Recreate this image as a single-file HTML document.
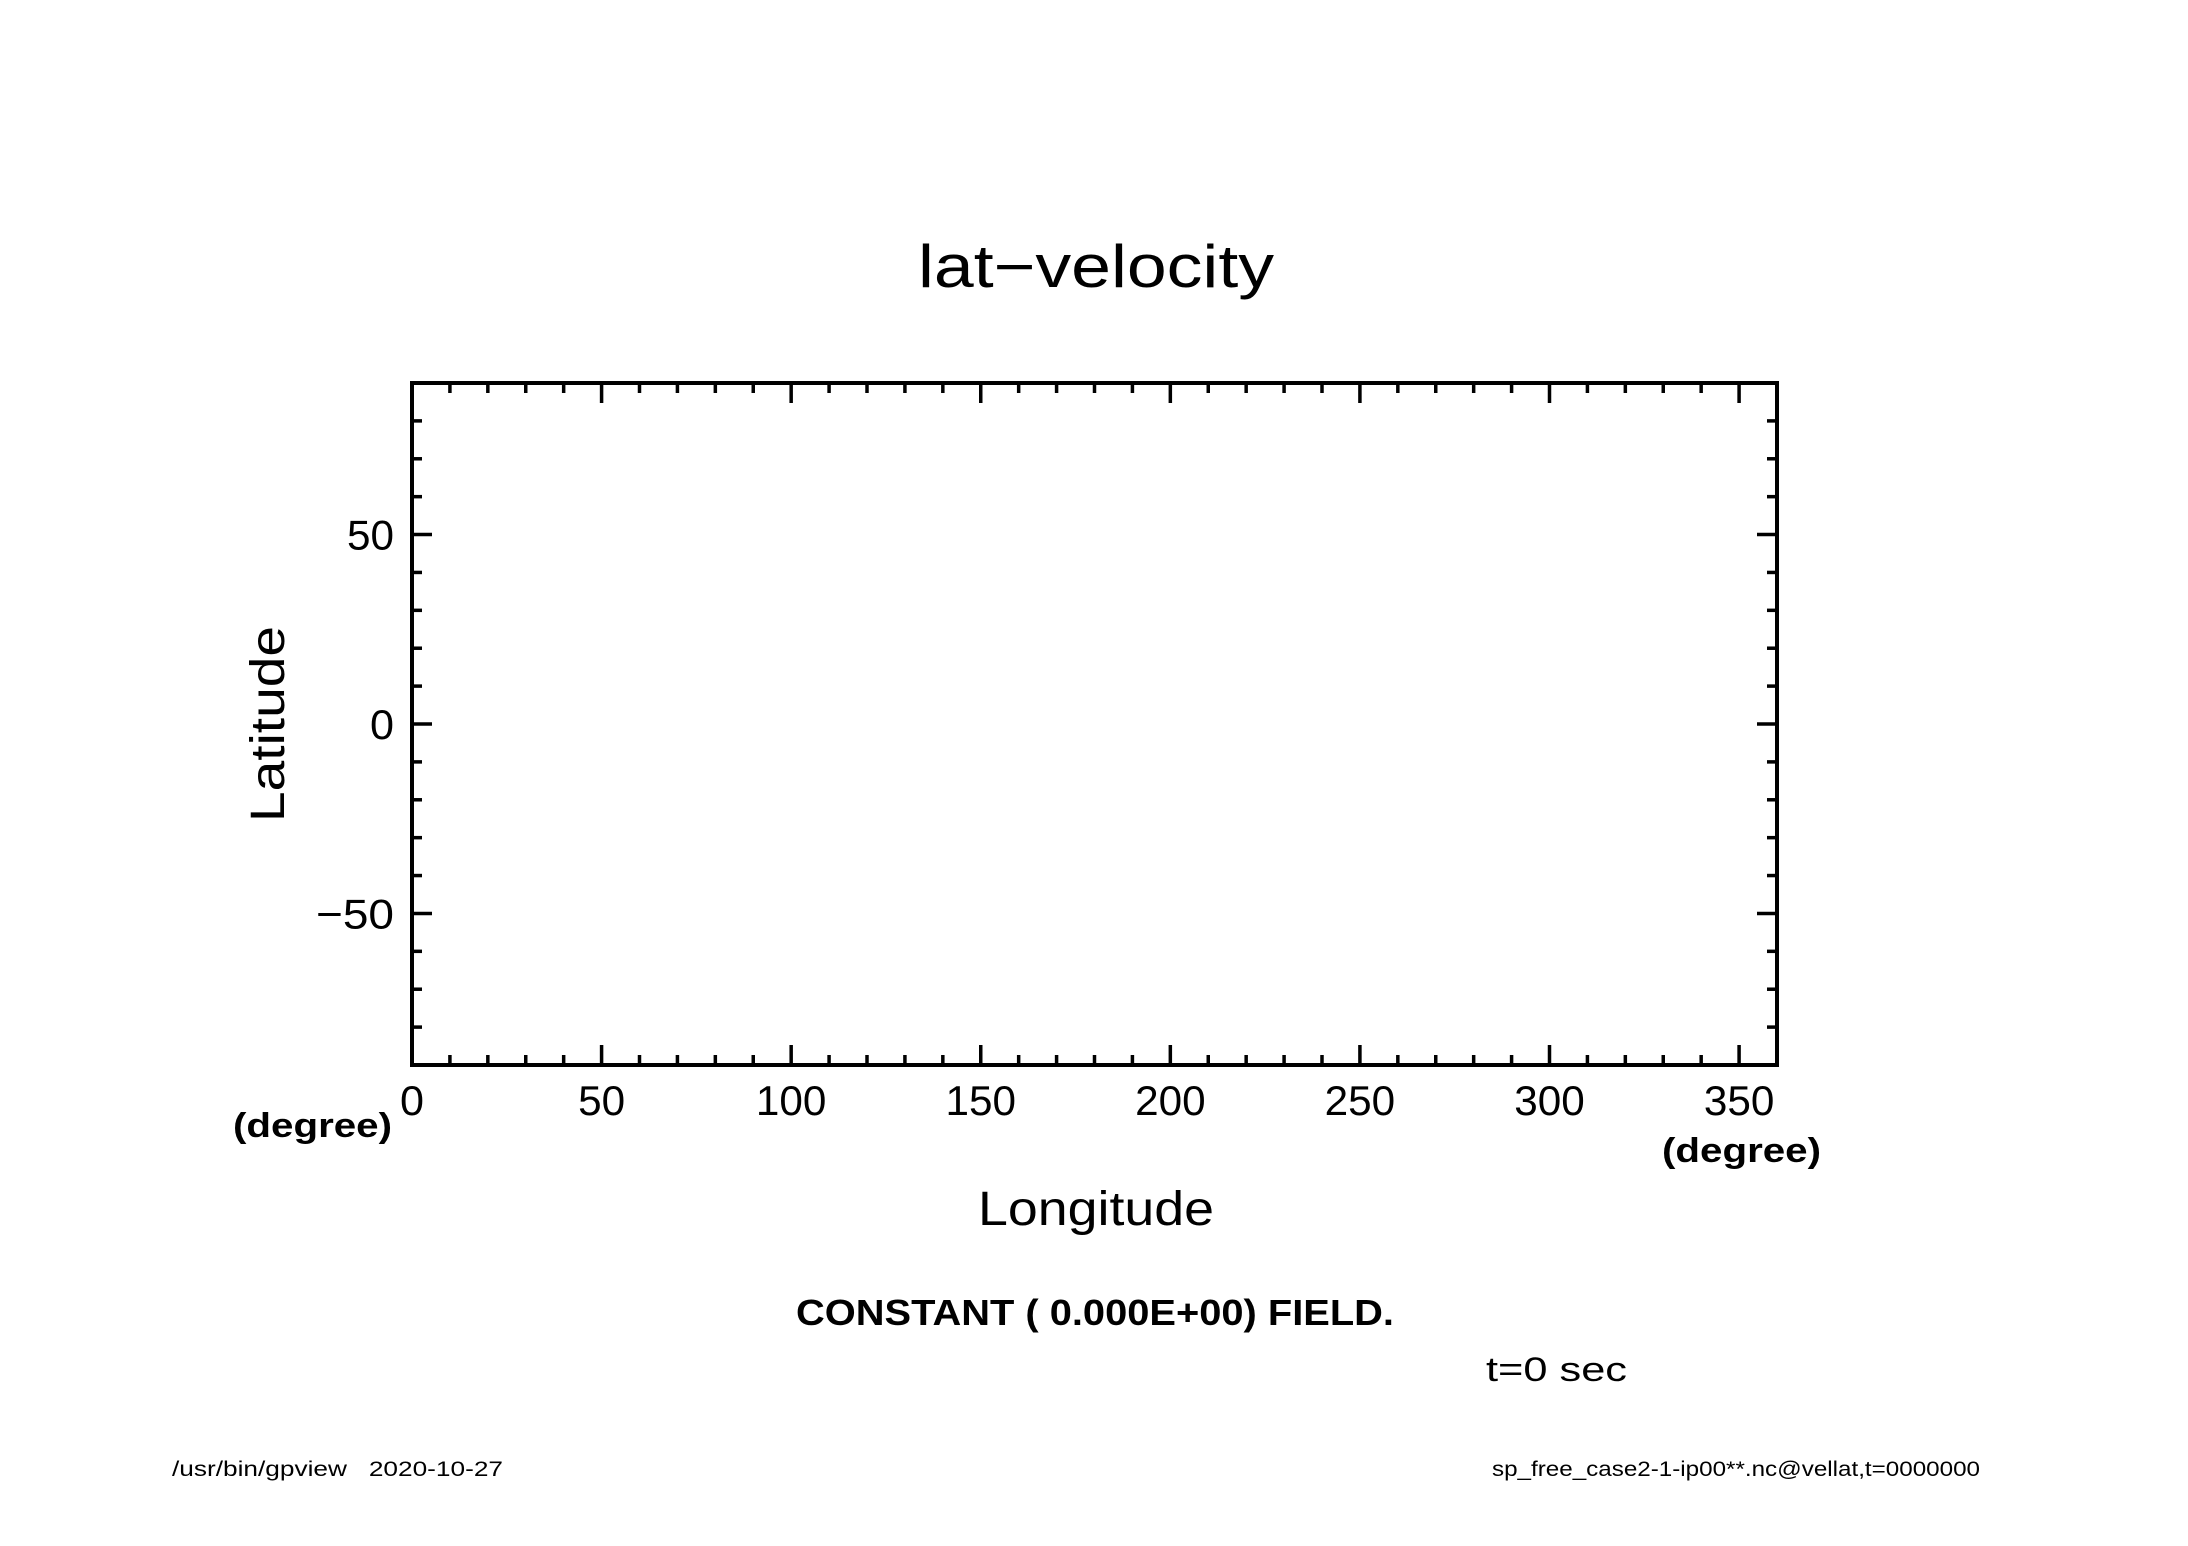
<!DOCTYPE html>
<html><head><meta charset="utf-8"><style>
body{margin:0;background:#fff}
svg{display:block}
text{font-family:"Liberation Sans",sans-serif;fill:#000}
</style></head><body>
<svg width="2188" height="1546" viewBox="0 0 2188 1546">
<g id="ticks"></g>
<rect x="412" y="383" width="1365" height="682" fill="none" stroke="#000" stroke-width="4"/>
<g id="labels"></g>
<text x="918" y="287" font-size="60" textLength="356" lengthAdjust="spacingAndGlyphs">lat−velocity</text>
<text transform="translate(284,724) rotate(-90)" font-size="48" text-anchor="middle" textLength="196" lengthAdjust="spacingAndGlyphs">Latitude</text>
<text x="978" y="1225" font-size="48" textLength="236" lengthAdjust="spacingAndGlyphs">Longitude</text>
<text x="233" y="1137" font-size="34" font-weight="bold" textLength="159" lengthAdjust="spacingAndGlyphs">(degree)</text>
<text x="1662" y="1162" font-size="34" font-weight="bold" textLength="159" lengthAdjust="spacingAndGlyphs">(degree)</text>
<text x="796" y="1325" font-size="36" font-weight="bold" textLength="598" lengthAdjust="spacingAndGlyphs">CONSTANT ( 0.000E+00) FIELD.</text>
<text x="1486" y="1381" font-size="34" textLength="141" lengthAdjust="spacingAndGlyphs">t=0 sec</text>
<text x="172" y="1476" font-size="21" textLength="331" lengthAdjust="spacingAndGlyphs" xml:space="preserve">/usr/bin/gpview   2020-10-27</text>
<text x="1492" y="1476" font-size="21" textLength="488" lengthAdjust="spacingAndGlyphs">sp_free_case2-1-ip00**.nc@vellat,t=0000000</text>
</svg>
<script>
const xTicks=[0,50,100,150,200,250,300,350];
const yTicks=[-50,0,50];
const xMin=0,xMax=360,yMin=-90,yMax=90;
const L=412,R=1777,T=383,B=1065;
const sx=v=>L+(v-xMin)/(xMax-xMin)*(R-L);
const sy=v=>B-(v-yMin)/(yMax-yMin)*(B-T);
const NS="http://www.w3.org/2000/svg";
const tg=document.getElementById('ticks'),lg=document.getElementById('labels');
function line(x1,y1,x2,y2){const l=document.createElementNS(NS,'line');
l.setAttribute('x1',x1);l.setAttribute('y1',y1);l.setAttribute('x2',x2);l.setAttribute('y2',y2);
l.setAttribute('stroke','#000');l.setAttribute('stroke-width','3.5');


tg.appendChild(l);}
for(let v=xMin;v<=xMax;v+=10){const len=v%50===0?20:10;const x=sx(v);line(x,B,x,B-len);line(x,T,x,T+len);}
for(let v=yMin;v<=yMax;v+=10){const len=v%50===0?20:10;const y=sy(v);line(L,y,L+len,y);line(R,y,R-len,y);}
function txt(s,x,y,anchor){const t=document.createElementNS(NS,'text');t.textContent=s;
t.setAttribute('x',x);t.setAttribute('y',y);t.setAttribute('font-size','42');t.setAttribute('text-anchor',anchor);
const w=s.startsWith('−')?78:(s.length===1?24:s.length*23.5);
t.setAttribute('textLength',w);t.setAttribute('lengthAdjust','spacingAndGlyphs');


lg.appendChild(t);}
xTicks.forEach(v=>txt(String(v),sx(v),1115,'middle'));
yTicks.forEach(v=>txt(v<0?'−'+Math.abs(v):String(v),394,sy(v)+15,'end'));
</script>
</body></html>
